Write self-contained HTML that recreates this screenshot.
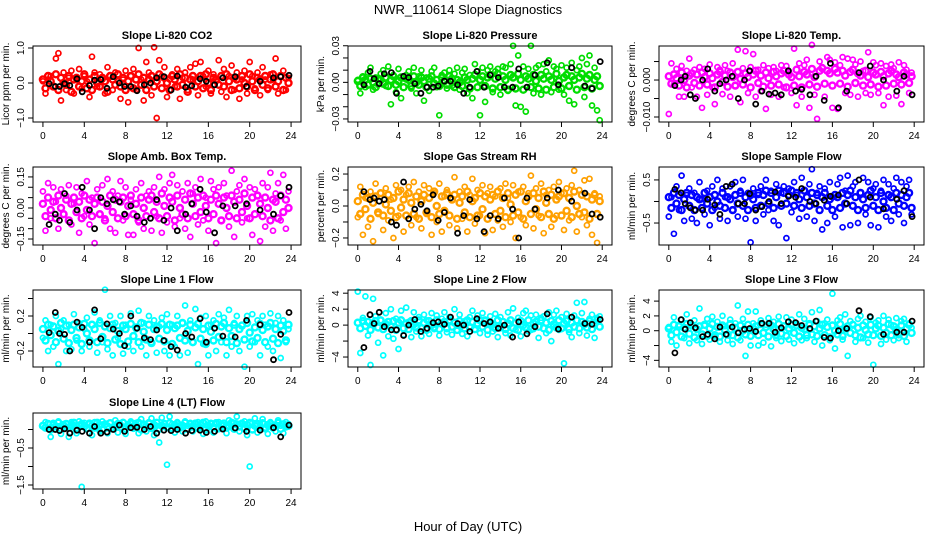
<!DOCTYPE html>
<html><head><meta charset="utf-8"><style>
body{margin:0;background:#fff;}
svg{display:block;font-family:"Liberation Sans",sans-serif;}
</style></head><body>
<svg id="c" width="936" height="540" xmlns="http://www.w3.org/2000/svg">
<rect width="936" height="540" fill="#fff"/>
<text x="468" y="14" text-anchor="middle" font-size="13">NWR_110614  Slope Diagnostics</text>
<text x="468" y="531" text-anchor="middle" font-size="13">Hour of Day (UTC)</text>
</svg>
<script>
const hours = [0,0.25,0.5,0.75,1,1.25,1.5,1.75,2,2.25,2.5,2.75,3,3.25,3.5,3.75,4,4.25,4.5,4.75,5,5.25,5.5,5.75,6,6.25,6.5,6.75,7,7.25,7.5,7.75,8,8.25,8.5,8.75,9,9.25,9.5,9.75,10,10.25,10.5,10.75,11,11.25,11.5,11.75,12,12.25,12.5,12.75,13,13.25,13.5,13.75,14,14.25,14.5,14.75,15,15.25,15.5,15.75,16,16.25,16.5,16.75,17,17.25,17.5,17.75,18,18.25,18.5,18.75,19,19.25,19.5,19.75,20,20.25,20.5,20.75,21,21.25,21.5,21.75,22,22.25,22.5,22.75,23,23.25,23.5,23.75];
const hoursB = [0.6,1.2,1.6,2.1,2.6,3.3,3.8,4.5,5.0,5.6,6.2,6.8,7.4,7.9,8.5,9.1,9.8,10.4,11.0,11.7,12.4,13.0,13.8,14.4,15.2,15.8,16.6,17.4,18.6,19.7,21.0,22.3,23.0,23.8];
const xTicks = [0,4,8,12,16,20,24];

const co2Spread = [0.05,-0.3,0.1,0.2,-0.1,0.7,0.85,-0.5,0.3,-0.2,0.15,0.35,-0.3,0.1,0.4,-0.15,0.2,0.05,-0.4,0.75,0.3,-0.1,0.25,0.1,-0.3,0.45,0.2,-0.2,0.3,0.05,-0.45,0.1,0.35,-0.55,0.2,0.4,-0.2,1.0,0.1,-0.5,0.6,0.3,-0.35,1.02,-1.0,0.65,0.2,0.45,-0.4,0.1,0.25,-0.1,0.4,-0.45,0.15,0.3,-0.2,0.45,0.1,0.55,-0.35,0.6,0.2,-0.1,0.35,-0.3,0.25,0.05,0.65,-0.25,0.4,-0.4,0.2,0.5,-0.2,0.3,-0.45,0.1,0.35,-0.3,0.6,0.2,-0.15,0.3,-0.35,0.45,0.1,-0.2,0.25,0.1,0.7,-0.3,0.2,0.35,-0.2,0.15];
const co2Core = [0.1,-0.15,0.2,0.05,-0.1,0.25,-0.2,0.15,0,-0.05,0.2,-0.25,0.1,0.15,-0.1,0.05,0.25,-0.15,0.1,-0.2,0.2,0,-0.1,0.15,0.05,-0.25,0.2,0.1,-0.05,0.25,-0.1,0.15,-0.2,0.05,0.2,-0.15,0.1,0.25,-0.05,0.15,-0.2,0.1,0.2,-0.1,0.05,0.25,-0.15,0.15,0,-0.2,0.2,0.1,-0.1,0.25,-0.05,0.15,-0.25,0.1,0.2,-0.1,0.05,0.2,-0.15,0.25,0,-0.2,0.15,0.1,-0.05,0.2,-0.1,0.25,0.05,-0.2,0.15,0.1,-0.15,0.2,0,-0.1,0.25,0.05,-0.2,0.15,0.1,-0.05,0.2,-0.15,0.1,0.25,-0.1,0.05,0.2,-0.2,0.15,0];
const co2Black = [-0.02,-0.1,-0.1,-0.02,-0.07,0.12,-0.25,-0.07,0.08,0.1,-0.15,0.18,0.0,-0.1,-0.1,-0.22,-0.05,0.0,0.15,0.18,-0.2,0.2,-0.12,-0.08,0.12,0.05,-0.05,0.15,0.18,-0.1,0.05,0.15,0.18,0.22];

const presSpread = [0.002,-0.009,0.005,-0.004,0.008,0.012,-0.006,0.004,-0.002,0.007,0.01,-0.003,0.013,-0.018,0.006,-0.008,0.011,-0.013,0.004,0.006,0.009,-0.005,0.012,-0.009,0.005,0.01,-0.015,0.004,-0.007,0.009,0.012,-0.004,-0.027,0.006,0.008,-0.005,0.01,-0.003,0.007,0.012,-0.006,0.008,0.011,-0.009,0.006,-0.013,0.015,0.009,-0.027,0.012,-0.016,0.01,0.013,-0.008,0.009,0.011,-0.01,0.013,0.012,-0.007,0.015,0.03,-0.019,0.022,-0.02,0.013,-0.024,0.011,0.03,-0.009,0.012,0.014,-0.01,0.015,0.009,0.018,-0.008,0.013,0.011,-0.006,0.014,-0.01,0.012,-0.015,0.016,-0.018,0.01,0.013,0.02,-0.012,0.015,0.022,-0.019,0.012,-0.023,-0.031];
const presCore = [0.001,-0.003,0.004,0.002,-0.002,0.003,0.0,-0.004,0.003,0.002,-0.001,0.004,-0.003,0.002,0.005,-0.002,0.001,0.004,-0.004,0.003,0.002,-0.003,0.005,0.0,-0.002,0.004,0.001,-0.004,0.003,0.005,-0.001,0.002,-0.003,0.004,0.001,-0.002,0.005,0.003,-0.004,0.002,0.0,-0.003,0.004,0.002,-0.005,0.003,0.006,-0.004,0.002,0.005,-0.003,0.004,0.006,-0.005,0.003,0.007,-0.004,0.005,0.002,-0.006,0.006,0.004,-0.005,0.007,0.002,-0.006,0.005,0.003,-0.004,0.006,0.001,-0.005,0.006,0.003,-0.006,0.005,0.002,-0.004,0.007,0.001,-0.005,0.004,0.006,-0.003,0.005,0.002,-0.006,0.004,0.007,-0.004,0.003,0.006,-0.005,0.002,0.005,-0.003];
const presBlack = [-0.002,0.009,0.003,-0.001,0.007,0.008,-0.009,0.005,0.004,-0.001,-0.009,-0.004,-0.004,-0.003,0.001,0.001,-0.002,-0.009,-0.004,0.009,-0.004,0.006,0.004,-0.004,-0.004,0.011,-0.004,0.006,0.016,-0.002,0.012,-0.003,-0.005,0.017];

const tempSpread = [-0.0092,0.0045,-0.0012,0.003,-0.0045,0.0038,-0.0045,0.0025,0.0058,-0.002,0.0028,-0.0045,0.0035,-0.0075,0.003,-0.004,0.0042,-0.002,-0.0065,0.0035,0.0028,-0.0038,0.004,0.0025,-0.0045,0.0045,-0.0015,0.0082,-0.006,0.0032,0.0078,-0.0035,0.0035,0.007,-0.0045,0.0028,-0.003,0.004,-0.0078,0.0032,-0.004,0.0035,0.0025,-0.0045,0.004,-0.002,0.0038,0.0022,-0.0035,0.0085,-0.0068,0.0045,-0.0045,0.004,0.0055,-0.0075,0.0095,-0.004,-0.0105,0.005,0.0035,-0.0045,0.0062,0.0055,-0.0075,0.0048,-0.0078,0.004,0.0062,-0.0035,0.0058,-0.004,0.0055,0.0042,-0.0045,0.005,0.0025,-0.0035,0.0075,-0.004,0.0048,0.004,-0.0035,0.0045,-0.0068,0.0038,-0.0045,0.0042,0.0032,-0.0042,0.0048,-0.0065,0.004,0.0028,-0.0035,0.002];
const tempCore = [0.001,-0.001,0.0015,0.0005,-0.0015,0.002,0.0,-0.002,0.0012,0.0018,-0.0008,0.0015,-0.0015,0.002,0.0008,-0.0012,0.0018,0.0005,-0.002,0.0015,0.0022,-0.0005,0.0012,-0.0018,0.002,0.0008,-0.0015,0.0022,0.0003,-0.0012,0.0018,0.0008,-0.002,0.0015,0.0025,-0.0008,0.0012,-0.0018,0.002,0.0005,-0.0015,0.0022,0.001,-0.0012,0.0018,0.0025,-0.002,0.0015,0.0008,-0.0015,0.0028,0.001,-0.002,0.0022,0.0015,-0.0012,0.003,0.0008,-0.0018,0.0025,0.0032,-0.001,0.0025,0.0018,-0.0015,0.003,0.002,-0.001,0.0025,0.0012,-0.0018,0.0022,0.0028,-0.0008,0.0018,0.0012,-0.0015,0.0025,0.0008,-0.0012,0.002,0.0015,-0.0018,0.0022,0.001,-0.0015,0.0018,0.0025,-0.001,0.0015,0.0008,-0.0012,0.002,0.0015,-0.0008,0.001];
const tempBlack = [-0.0015,0.0,0.001,-0.004,-0.005,0.0,0.003,-0.003,-0.001,0.0,0.001,-0.005,0.0,0.0025,-0.0065,-0.003,-0.0038,-0.0035,-0.004,0.0025,-0.003,-0.0025,-0.004,0.001,-0.0055,0.0045,-0.0075,-0.003,0.002,0.0038,0.0,-0.003,0.001,-0.004];

const ambSpread = [0.08,-0.11,0.12,-0.05,0.1,0.03,-0.1,0.09,-0.03,0.06,0.11,-0.08,0.02,0.1,-0.12,0.07,-0.04,0.13,-0.08,0.05,-0.17,0.09,-0.03,0.11,-0.05,0.14,-0.1,0.08,-0.12,0.06,0.13,-0.06,0.1,-0.13,0.04,-0.13,0.09,-0.07,0.12,-0.1,0.06,0.08,-0.11,0.1,-0.04,0.15,-0.12,0.09,-0.07,0.12,0.16,-0.09,0.11,-0.05,0.08,-0.1,0.12,-0.14,0.07,0.1,-0.08,0.14,-0.06,0.05,-0.11,0.13,0.09,-0.17,0.1,-0.06,0.12,0.06,-0.09,0.18,-0.14,0.08,0.11,-0.07,0.14,-0.05,0.1,-0.13,0.09,0.06,-0.16,0.12,-0.09,0.1,0.17,-0.11,0.07,0.12,-0.06,0.16,-0.1,0.08];
const ambCore = [0.02,-0.04,0.05,-0.01,0.03,-0.05,0.06,0.0,-0.03,0.04,-0.06,0.02,0.05,-0.02,0.03,-0.05,0.06,-0.01,0.04,-0.04,0.02,0.05,-0.03,0.03,-0.06,0.01,0.06,-0.02,0.04,-0.05,0.03,0.05,-0.04,0.01,0.06,-0.03,0.02,-0.06,0.05,0.0,-0.04,0.04,0.06,-0.02,0.03,-0.05,0.07,0.01,-0.04,0.05,0.03,-0.06,0.06,0.0,-0.03,0.04,-0.05,0.07,0.02,-0.04,0.05,-0.02,0.06,0.01,-0.05,0.04,-0.03,0.06,0.02,-0.06,0.05,0.0,-0.04,0.06,0.03,-0.05,0.04,-0.02,0.07,0.01,-0.05,0.05,-0.03,0.06,0.02,-0.04,0.05,0.0,-0.06,0.04,0.03,-0.05,0.06,-0.02,0.04,0.0];
const ambBlack = [-0.08,-0.03,-0.06,0.07,-0.07,-0.01,0.1,-0.01,-0.1,0.05,0.02,0.04,0.03,-0.03,0.01,-0.04,-0.07,-0.05,0.04,-0.06,0.0,-0.11,-0.03,0.02,0.09,-0.02,-0.12,0.01,0.01,0.02,-0.01,-0.03,0.06,0.1];

const rhSpread = [-0.07,0.12,-0.18,0.05,-0.13,0.09,-0.22,0.14,-0.05,0.08,-0.15,0.11,-0.09,0.04,-0.2,0.13,-0.06,0.1,-0.16,0.07,0.12,-0.12,0.15,-0.07,0.09,-0.14,0.13,-0.05,0.11,-0.18,0.08,-0.1,0.14,-0.16,0.06,0.1,-0.12,0.04,0.18,-0.14,0.09,-0.08,0.12,-0.16,0.07,0.17,-0.11,0.1,-0.06,0.13,-0.17,0.08,0.12,-0.15,0.06,-0.09,0.11,-0.13,0.14,0.05,-0.1,0.13,-0.2,0.09,-0.07,0.12,-0.12,0.08,0.19,-0.14,0.11,-0.06,0.14,-0.17,0.07,0.1,-0.13,0.12,-0.06,0.15,0.08,-0.15,0.11,-0.09,0.13,0.22,-0.16,0.1,-0.07,0.16,-0.12,0.17,-0.18,0.08,-0.23,0.06];
const rhCore = [0.03,-0.05,0.07,-0.02,0.05,-0.08,0.02,0.06,-0.04,0.08,-0.06,0.01,0.07,-0.03,0.05,-0.07,0.09,-0.01,0.04,-0.06,0.08,0.02,-0.05,0.06,-0.08,0.03,0.07,-0.04,0.05,-0.07,0.09,0.0,-0.05,0.06,-0.03,0.08,-0.06,0.04,0.07,-0.08,0.02,0.06,-0.04,0.09,-0.07,0.03,0.05,-0.06,0.08,-0.02,0.06,-0.08,0.04,0.07,-0.05,0.09,-0.03,0.05,-0.07,0.08,0.01,-0.06,0.07,-0.04,0.09,-0.08,0.03,0.06,-0.05,0.08,-0.02,0.05,-0.07,0.09,0.02,-0.05,0.07,-0.08,0.04,0.06,-0.06,0.08,-0.03,0.05,-0.07,0.09,0.0,-0.05,0.07,-0.04,0.06,-0.08,0.04,0.07,-0.05,0.03];
const rhBlack = [0.09,0.04,0.05,0.03,0.04,-0.1,-0.12,0.15,-0.08,-0.02,0.01,-0.03,0.07,-0.09,-0.04,0.05,-0.17,-0.06,0.04,-0.08,-0.16,-0.06,-0.08,0.05,-0.02,-0.2,0.05,-0.02,0.05,0.1,0.03,0.08,-0.05,-0.07];

const sfSpread = [-0.35,0.1,-0.75,0.35,-0.2,0.6,-0.45,0.15,0.3,-0.4,0.2,-0.5,0.45,0.05,-0.3,0.25,-0.55,0.35,-0.15,0.5,-0.4,0.3,0.1,-0.45,0.35,-0.2,0.45,-0.35,0.25,0.5,-0.4,0.2,-0.95,0.3,-0.45,0.15,0.35,-0.3,0.5,-0.2,0.25,-0.45,0.4,-0.55,0.2,0.35,-0.85,0.3,-0.25,0.45,0.15,-0.4,0.55,0.25,-0.35,0.4,0.75,-0.45,0.2,0.35,-0.65,0.3,-0.5,0.45,0.1,-0.35,0.4,0.55,-0.6,0.25,0.6,-0.55,0.35,0.45,-0.5,0.2,0.55,-0.3,0.45,-0.55,0.3,0.4,-0.6,0.25,0.5,-0.35,0.4,-0.45,0.3,0.55,-0.3,0.45,-0.5,0.35,0.5,-0.3];
const sfCore = [0.1,-0.15,0.2,-0.05,0.15,-0.2,0.05,0.2,-0.1,0.15,-0.2,0.1,0.05,-0.15,0.2,-0.05,0.1,-0.2,0.15,0.0,-0.1,0.2,-0.15,0.1,0.05,-0.2,0.15,-0.05,0.2,-0.1,0.1,-0.2,0.15,0.05,-0.15,0.2,-0.1,0.15,0.25,-0.05,0.2,-0.15,0.1,0.25,-0.1,0.2,-0.05,0.15,0.25,-0.1,0.2,0.05,-0.15,0.25,0.1,-0.1,0.2,-0.05,0.15,-0.2,0.1,0.2,-0.1,0.05,-0.2,0.15,0.1,-0.15,0.2,-0.05,0.15,0.25,-0.1,0.1,-0.2,0.2,0.05,-0.15,0.15,0.25,-0.1,0.1,-0.2,0.2,0.0,-0.15,0.15,0.1,-0.2,0.2,-0.05,0.15,-0.1,0.1,0.2,-0.15];
const sfBlack = [0.28,0.2,-0.05,-0.15,-0.2,-0.2,0.05,-0.08,-0.3,0.35,0.4,-0.05,-0.05,0.18,-0.2,-0.12,0.0,0.22,-0.05,0.12,0.1,0.3,0.0,-0.05,0.03,0.12,0.15,-0.05,0.5,0.1,-0.17,0.05,0.25,-0.35];

const l1Spread = [-0.05,0.15,-0.2,0.1,-0.15,0.2,-0.35,0.05,0.15,-0.2,0.1,-0.18,0.22,-0.08,0.12,-0.2,0.05,0.18,-0.15,0.1,0.24,-0.22,0.15,-0.1,0.5,-0.18,0.2,-0.25,0.12,-0.05,0.2,-0.23,0.1,-0.15,0.23,-0.2,0.05,0.26,-0.15,0.12,-0.25,0.2,-0.1,0.15,-0.22,0.08,0.18,-0.2,0.22,-0.25,0.1,-0.15,0.2,-0.25,0.12,0.32,-0.22,0.15,-0.1,0.28,-0.35,0.18,-0.12,0.2,-0.25,0.1,0.15,-0.2,0.22,-0.1,0.18,-0.25,0.27,-0.15,0.12,0.2,-0.2,0.1,-0.38,0.2,-0.15,0.22,-0.1,0.15,-0.25,0.2,0.1,-0.15,0.23,-0.2,0.12,0.2,-0.28,0.15,-0.1,0.05];
const l1Core = [0.05,-0.08,0.1,-0.02,0.08,-0.1,0.03,0.12,-0.06,0.09,-0.11,0.04,0.1,-0.05,0.07,-0.12,0.11,0.0,-0.08,0.1,0.05,-0.1,0.12,-0.04,0.08,-0.11,0.06,0.1,-0.07,0.03,-0.12,0.09,0.05,-0.09,0.11,-0.03,0.07,-0.1,0.12,0.02,-0.07,0.1,-0.11,0.05,0.08,-0.06,0.11,-0.09,0.04,0.1,-0.12,0.06,0.09,-0.05,0.12,-0.08,0.03,0.1,-0.1,0.07,0.11,-0.06,0.05,-0.12,0.09,0.02,-0.08,0.11,-0.04,0.08,0.12,-0.1,0.06,-0.03,0.1,-0.11,0.05,0.09,-0.07,0.12,0.01,-0.09,0.07,-0.05,0.11,0.04,-0.1,0.08,0.12,-0.06,0.05,-0.11,0.09,0.03,-0.08,0.1];
const l1Black = [0.01,0.24,0.0,-0.01,-0.2,0.13,0.07,-0.1,0.27,-0.06,0.11,0.05,0.0,-0.14,0.2,0.06,-0.05,-0.07,0.04,-0.08,-0.15,-0.19,0.0,-0.04,0.17,-0.1,0.06,-0.03,-0.04,0.15,0.1,-0.3,-0.01,0.24];

const l2Spread = [4.2,-3.5,0.9,3.6,-1.3,-5.0,3.3,1.1,-2.2,0.6,-3.8,1.5,-1.4,2.0,-1.7,0.8,-3.0,1.8,-1.2,2.2,0.4,-1.5,1.6,-0.8,1.0,-1.4,1.3,0.6,-1.1,1.5,-0.5,1.2,-1.3,0.8,1.6,-0.9,1.0,-1.2,2.0,-0.7,1.3,-1.1,0.5,-1.4,1.0,1.8,-0.6,1.2,-1.0,1.5,0.7,-1.2,1.1,-0.8,1.4,-1.5,1.0,0.5,-1.0,1.6,-1.3,2.1,-0.6,0.9,-1.4,1.5,1.8,-0.8,1.2,-0.5,1.3,-1.6,0.9,1.1,-1.0,1.6,-2.0,1.3,1.8,-0.6,1.0,-4.8,1.4,-0.9,-1.5,1.2,2.8,-1.0,1.5,2.9,-1.3,0.8,1.3,-1.6,0.9,1.1];
const l2Core = [0.3,-0.4,0.5,-0.1,0.4,-0.6,0.2,0.5,-0.3,0.6,-0.5,0.1,0.4,-0.2,0.5,-0.6,0.3,0.6,-0.4,0.2,-0.5,0.5,0.1,-0.3,0.6,-0.4,0.3,-0.6,0.5,0.0,-0.3,0.6,-0.5,0.2,0.4,-0.4,0.6,-0.2,0.3,-0.6,0.5,0.1,-0.4,0.6,-0.3,0.4,-0.5,0.2,0.6,-0.2,0.5,-0.6,0.3,0.1,-0.4,0.6,-0.3,0.4,-0.5,0.2,0.6,-0.4,0.3,-0.6,0.5,0.0,-0.3,0.6,-0.5,0.2,0.4,-0.2,0.6,-0.4,0.3,-0.6,0.5,0.1,-0.3,0.6,-0.4,0.2,0.5,-0.5,0.3,-0.2,0.6,-0.4,0.4,0.1,-0.3,0.5,-0.5,0.2,0.6,-0.2];
const l2Black = [-2.8,1.3,0.2,1.6,-0.2,-0.6,-0.6,-1.3,0.0,0.7,-0.8,-0.4,0.3,0.4,0.1,1.0,0.2,0.0,-0.8,0.8,0.2,0.4,-0.4,0.0,-1.5,0.4,-1.1,-0.2,1.4,-0.5,1.0,0.2,0.1,0.7];

const l3Spread = [0.5,-1.5,1.8,-2.0,0.8,1.5,-1.0,2.2,-1.7,0.9,1.4,-1.3,3.0,-1.8,0.7,1.6,-1.2,1.9,-0.8,1.2,-1.5,2.0,0.6,-1.3,1.5,-1.8,1.0,3.4,-1.3,1.6,-3.4,2.6,-2.0,1.0,2.6,-2.0,1.4,-1.6,0.8,1.7,-2.1,1.2,-1.0,1.9,-1.4,0.7,1.8,-1.2,1.5,-1.7,1.0,2.2,-1.3,1.6,-1.0,0.8,2.5,-1.5,1.3,2.8,-2.0,1.0,1.5,-1.3,5.0,-2.4,1.4,1.8,-1.2,2.2,-3.4,1.3,0.9,-1.5,1.6,2.0,-1.0,1.2,-1.6,1.8,-4.6,1.1,1.4,-1.8,2.0,-1.2,1.5,0.8,-1.3,1.7,-1.0,1.3,1.6,-1.5,1.0,0.4];
const l3Core = [0.3,-0.6,0.8,-0.2,0.6,-0.8,0.4,0.9,-0.4,0.7,-0.9,0.2,0.6,-0.5,0.8,-0.7,0.3,0.9,-0.6,0.5,-0.8,0.7,0.1,-0.5,0.9,-0.6,0.4,-0.9,0.7,0.0,-0.5,0.8,-0.7,0.3,0.6,-0.6,0.9,-0.3,0.5,-0.8,0.7,0.2,-0.6,0.9,-0.4,0.6,-0.7,0.3,0.8,-0.3,0.7,-0.8,0.4,0.2,-0.6,0.9,-0.5,0.6,-0.7,0.3,0.8,-0.6,0.5,-0.9,0.7,0.0,-0.5,0.9,-0.7,0.3,0.6,-0.3,0.8,-0.6,0.4,-0.9,0.7,0.1,-0.5,0.8,-0.6,0.3,0.7,-0.7,0.4,-0.3,0.9,-0.6,0.6,0.1,-0.5,0.7,-0.7,0.3,0.8,-0.3];
const l3Black = [-3.0,1.5,0.2,1.1,0.4,-0.8,-0.5,-1.1,0.5,-0.5,0.5,-0.3,0.2,0.3,-0.1,1.0,1.0,-0.2,0.4,1.2,1.1,0.7,0.3,1.3,-0.9,-1.0,0.0,0.3,2.7,1.9,-0.5,-0.2,-0.2,1.3];

const l4Spread = [0.1,0.2,0.05,-0.2,0.18,0.0,0.22,-0.12,0.15,0.05,-0.2,0.2,0.12,-0.1,0.22,-1.55,0.18,0.02,0.15,-0.15,0.2,0.08,-0.05,0.22,0.12,-0.1,0.18,0.05,0.25,-0.08,0.15,0.2,-0.12,0.1,0.22,0.02,0.18,-0.1,0.28,0.12,-0.05,0.2,0.3,-0.15,0.1,-0.35,0.32,0.08,-0.95,0.35,0.15,-0.08,0.2,0.12,-0.05,0.22,0.1,0.18,-0.05,0.15,0.2,0.05,-0.12,0.22,0.1,0.18,-0.08,0.15,0.2,0.02,0.12,-0.1,0.25,0.08,0.18,0.35,-0.05,0.15,0.22,-0.15,-1.0,0.18,0.3,-0.08,0.15,0.28,0.05,-0.12,0.2,0.12,-0.05,0.25,0.1,-0.1,0.2,0.15];
const l4Core = [0.1,0.05,0.15,0.0,0.12,0.08,0.18,0.02,0.1,0.15,0.05,0.12,0.18,0.0,0.1,0.15,0.08,0.03,0.16,0.1,0.05,0.18,0.12,0.0,0.14,0.08,0.17,0.03,0.1,0.15,0.06,0.18,0.02,0.12,0.16,0.05,0.1,0.18,0.0,0.14,0.08,0.16,0.04,0.12,0.18,0.02,0.1,0.15,0.06,0.17,0.03,0.12,0.16,0.05,0.1,0.18,0.02,0.14,0.08,0.16,0.04,0.12,0.18,0.0,0.1,0.15,0.06,0.17,0.03,0.12,0.16,0.05,0.1,0.18,0.02,0.14,0.08,0.16,0.04,0.12,0.18,0.0,0.1,0.15,0.06,0.17,0.03,0.12,0.16,0.05,0.1,0.18,0.02,0.14,0.08,0.1];
const l4Black = [0.0,0.0,-0.03,0.02,-0.1,-0.02,-0.05,-0.1,0.08,-0.1,-0.07,0.0,0.12,-0.05,0.05,0.06,0.0,0.08,-0.1,-0.02,-0.03,0.0,-0.1,-0.03,-0.02,-0.08,-0.05,0.01,0.04,-0.05,-0.02,0.05,-0.2,0.12];

const panels = [
 {name:'co2', title:'Slope Li-820 CO2', ylab:'Licor ppm per min.', color:'#ff0000', box:[33,301,46,122], ylim:[-1.114,1.057], ticks:[-1,0,1], labels:['\u22121.0','0.0','1.0'], spread:co2Spread, core:co2Core, black:co2Black},
 {name:'pressure', title:'Slope Li-820 Pressure', ylab:'kPa per min.', color:'#00dd00', box:[348,612,46,122], ylim:[-0.0325,0.0298], ticks:[-0.03,-0.02,-0.01,0,0.01,0.02,0.03], labels:['\u22120.03','','','0.00','','','0.03'], spread:presSpread, core:presCore, black:presBlack},
 {name:'temp', title:'Slope Li-820 Temp.', ylab:'degrees C per min.', color:'#ff00ff', box:[659,924,46,122], ylim:[-0.01135,0.0092], ticks:[-0.01,-0.005,0,0.005], labels:['\u22120.010','','0.000',''], spread:tempSpread, core:tempCore, black:tempBlack},
 {name:'amb-box-temp', title:'Slope Amb. Box Temp.', ylab:'degrees C per min.', color:'#ff00ff', box:[33,301,167,245], ylim:[-0.179,0.198], ticks:[-0.15,-0.1,-0.05,0,0.05,0.1,0.15], labels:['\u22120.15','','','0.00','','','0.15'], spread:ambSpread, core:ambCore, black:ambBlack},
 {name:'gas-rh', title:'Slope Gas Stream RH', ylab:'percent per min.', color:'#ffa000', box:[348,612,167,245], ylim:[-0.244,0.244], ticks:[-0.2,-0.1,0,0.1,0.2], labels:['\u22120.2','','0.0','','0.2'], spread:rhSpread, core:rhCore, black:rhBlack},
 {name:'sample-flow', title:'Slope Sample Flow', ylab:'ml/min per min.', color:'#0000ff', box:[659,924,167,245], ylim:[-1.01,0.8], ticks:[-0.5,0,0.5], labels:['\u22120.5','','0.5'], spread:sfSpread, core:sfCore, black:sfBlack},
 {name:'line1-flow', title:'Slope Line 1 Flow', ylab:'ml/min per min.', color:'#00ffff', box:[33,301,290,367], ylim:[-0.383,0.497], ticks:[-0.2,0,0.2,0.4], labels:['\u22120.2','','0.2',''], spread:l1Spread, core:l1Core, black:l1Black},
 {name:'line2-flow', title:'Slope Line 2 Flow', ylab:'ml/min per min.', color:'#00ffff', box:[348,612,290,367], ylim:[-5.25,4.4], ticks:[-4,-2,0,2,4], labels:['\u22124','','0','2','4'], spread:l2Spread, core:l2Core, black:l2Black},
 {name:'line3-flow', title:'Slope Line 3 Flow', ylab:'ml/min per min.', color:'#00ffff', box:[659,924,290,367], ylim:[-4.9,5.5], ticks:[-4,-2,0,2,4], labels:['\u22124','','0','2','4'], spread:l3Spread, core:l3Core, black:l3Black},
 {name:'line4-flow', title:'Slope Line 4 (LT) Flow', ylab:'ml/min per min.', color:'#00ffff', box:[33,301,413,489], ylim:[-1.608,0.446], ticks:[-1.5,-1,-0.5,0], labels:['\u22121.5','','\u22120.5',''], spread:l4Spread, core:l4Core, black:l4Black}
];

const NS='http://www.w3.org/2000/svg';
const svg=document.getElementById('c');
function mk(tag,attrs,parent){const e=document.createElementNS(NS,tag);for(const k in attrs)e.setAttribute(k,attrs[k]);(parent||svg).appendChild(e);return e;}

panels.forEach(p=>{
  const [x0,x1,y0,y1]=p.box;
  const xs=h=>x0+(h+0.96)/25.92*(x1-x0);
  const ys=v=>y1-(v-p.ylim[0])/(p.ylim[1]-p.ylim[0])*(y1-y0);
  const g=mk('g',{});
  
  
  const t=mk('text',{x:(x0+x1)/2,y:y0-7,'text-anchor':'middle','font-size':'11','font-weight':'bold'},g);
  t.textContent=p.title;
  
  
  const yl=mk('text',{transform:`translate(${x0-24},${(y0+y1)/2}) rotate(-90)`,'text-anchor':'middle','font-size':'10'},g);
  yl.textContent=p.ylab;
  
  
  const pts=mk('g',{fill:'none'},g);
  
  
  const draw=(arr,col,r,sw)=>arr.forEach((v,i)=>{ if(hours[i]===undefined)return;
    const c=mk('circle',{cx:xs(hours[i]).toFixed(1),cy:ys(v).toFixed(1),r:r,stroke:col,'stroke-width':sw},pts);
    
    
  });
  draw(p.core,p.color,3,2.4);
  draw(p.spread,p.color,2.5,1.7);
  p.black.forEach((v,i)=>{
    const c=mk('circle',{cx:xs(hoursB[i]).toFixed(1),cy:ys(v).toFixed(1),r:2.5,stroke:'#000','stroke-width':'1.8'},pts);
    
    
  });
  const b=mk('rect',{x:x0,y:y0,width:x1-x0,height:y1-y0,fill:'none',stroke:'#000','stroke-width':'1'},g);
  
  
  xTicks.forEach(h=>{
    const x=xs(h);
    const l=mk('line',{x1:x,x2:x,y1:y1,y2:y1+5,stroke:'#000'},g);
    
    
    const tx=mk('text',{x:x,y:y1+17,'text-anchor':'middle','font-size':'10'},g);
    tx.textContent=h;
    
    
  });
  p.ticks.forEach((v,i)=>{
    const y=ys(v);
    const l=mk('line',{x1:x0-5,x2:x0,y1:y,y2:y,stroke:'#000'},g);
    
    
    if(p.labels[i]){
      const tx=mk('text',{transform:`translate(${x0-9},${y}) rotate(-90)`,'text-anchor':'middle','font-size':'10'},g);
      tx.textContent=p.labels[i];
      
      
    }
  });
});
</script>
</body></html>
